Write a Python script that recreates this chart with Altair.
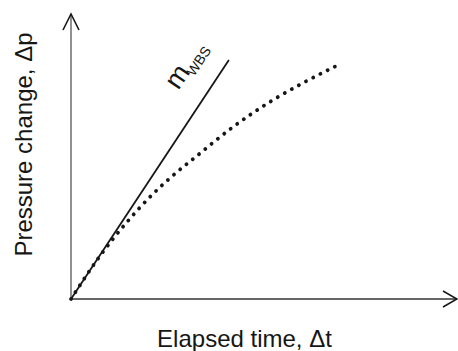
import altair as alt
import pandas as pd

# Wellbore-storage response: measured pressure change vs. elapsed time (arbitrary units)
curve_t = [0.0, 0.75, 1.45, 2.12, 2.75, 3.16, 4.20, 5.23, 6.01, 6.92]
curve_p = [0.0, 1.51, 2.70, 3.68, 4.46, 4.91, 6.04, 6.98, 7.58, 8.21]

# Unit-slope wellbore-storage straight line, m_WBS
wbs_t = [0.0, 4.09]
wbs_p = [0.0, 8.39]

# Label for the straight line: main letter and subscript
label_main = "m"
label_sub = "WBS"
label_main_t, label_main_p = 2.77, 7.79
label_sub_t, label_sub_p = 3.33, 8.33

# Axis extents (arrow tips)
axis_max_t = 10
axis_max_p = 10

curve_df = pd.DataFrame({"t": curve_t, "p": curve_p})
wbs_df = pd.DataFrame({"t": wbs_t, "p": wbs_p})
yaxis_df = pd.DataFrame({"t": [0], "p": [0], "p2": [axis_max_p]})
xaxis_df = pd.DataFrame({"t": [0], "t2": [axis_max_t], "p": [0]})
ytip_df = pd.DataFrame({"t": [0], "p": [axis_max_p]})
xtip_df = pd.DataFrame({"t": [axis_max_t], "p": [0]})
main_df = pd.DataFrame({"t": [label_main_t], "p": [label_main_p], "txt": [label_main]})
sub_df = pd.DataFrame({"t": [label_sub_t], "p": [label_sub_p], "txt": [label_sub]})

X = alt.X(
    "t:Q",
    scale=alt.Scale(domain=[0, axis_max_t], nice=False, zero=False),
    axis=alt.Axis(
        title="Elapsed time, Δt",
        domain=False, ticks=False, labels=False, grid=False,
        titleX=173, titleY=47, titleAlign="center", titleBaseline="alphabetic",
    ),
)
Y = alt.Y(
    "p:Q",
    scale=alt.Scale(domain=[0, axis_max_p], nice=False, zero=False),
    axis=alt.Axis(
        title="Pressure change, Δp",
        domain=False, ticks=False, labels=False, grid=False,
        titleX=-40, titleY=130, titleAlign="center", titleBaseline="alphabetic",
        titleAngle=270,
    ),
)

ink = "#161616"

y_axis = alt.Chart(yaxis_df).mark_rule(color="#555555", strokeWidth=1.3).encode(
    x=X, y=Y, y2="p2:Q"
)
x_axis = alt.Chart(xaxis_df).mark_rule(color="#333333", strokeWidth=1.6).encode(
    x=X, x2="t2:Q", y=Y
)
y_tip = alt.Chart(ytip_df).mark_point(
    shape="M-0.5,1L0,0L0.5,1", size=1024, filled=False,
    stroke=ink, strokeWidth=1.6, opacity=1,
).encode(x=X, y=Y)
x_tip = alt.Chart(xtip_df).mark_point(
    shape="M-0.875,-0.5L0,0L-0.875,0.5", size=1024, filled=False,
    stroke=ink, strokeWidth=1.6, opacity=1,
).encode(x=X, y=Y)

wbs_line = alt.Chart(wbs_df).mark_line(color=ink, strokeWidth=1.8).encode(x=X, y=Y)

curve = alt.Chart(curve_df).mark_line(
    color=ink, strokeWidth=3.8, strokeDash=[0.1, 8], strokeCap="round",
    interpolate="monotone",
).encode(x=X, y=Y)

main_text = alt.Chart(main_df).mark_text(
    font="Liberation Sans", fontSize=27, color=ink, angle=304,
    align="center", baseline="middle",
).encode(x=X, y=Y, text="txt:N")
sub_text = alt.Chart(sub_df).mark_text(
    font="Liberation Sans", fontSize=14, color=ink, angle=304,
    align="center", baseline="middle",
).encode(x=X, y=Y, text="txt:N")

chart = (
    alt.layer(y_axis, x_axis, y_tip, x_tip, wbs_line, curve, main_text, sub_text)
    .properties(
        width=386, height=285,
        padding={"left": 71, "top": 14, "right": 1, "bottom": 52},
        autosize=alt.AutoSizeParams(type="none"),
        background="white",
    )
    .configure_view(stroke=None)
    .configure_axis(
        titleFont="Liberation Sans", titleFontSize=24, titleFontWeight="normal",
        titleColor=ink,
    )
)

chart.save("out.html", embed_options={"renderer": "svg", "actions": False})
